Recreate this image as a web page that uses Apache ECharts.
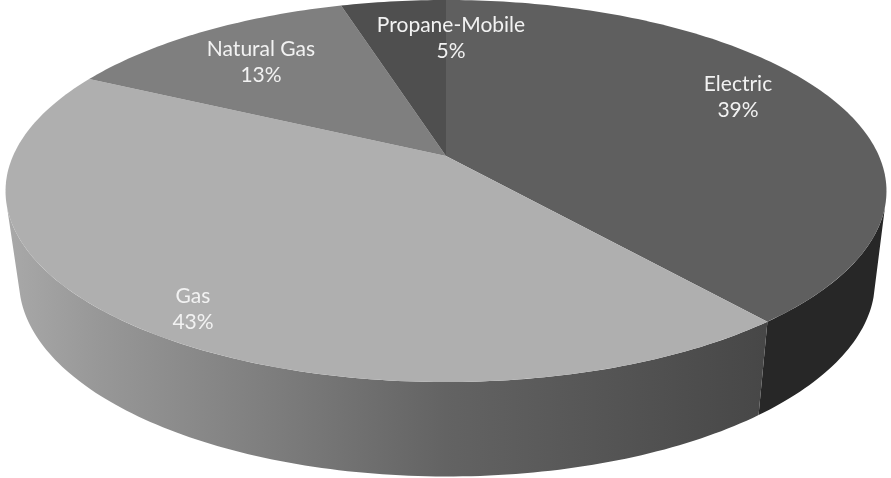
<!DOCTYPE html>
<html>
<head>
<meta charset="utf-8">
<style>html,body{margin:0;padding:0;background:#fff}#chart{width:891px;height:478px}</style>
<script src="https://cdn.jsdelivr.net/npm/echarts@6/dist/echarts.min.js"></script>
</head>
<body>
<div id="chart"></div>
<script>
// Data
var categories = ['Electric', 'Gas', 'Natural Gas', 'Propane-Mobile'];
var shares = [39.0, 43.45, 12.95, 4.6];
var shareLabels = ['39%', '43%', '13%', '5%'];

// Styling and layout
var topColors = ['#5f5f5f', '#afafaf', '#7f7f7f', '#4f4f4f'];
var wallStyles = ['#272727', 'gradient', null, null];
var labelAnchors = [[738, 97], [193, 309], [261, 62], [451, 38]];
var upperDisk = {x0: 446, y0: 156, a: 184.6, b: 433, k: 0.1834};
var lowerDisk = {x0: 447, y0: 246, a: 189, b: 421, k: 0.18};
var frontFrom = 105, frontTo = 255;

function project(d, deg) {
  var t = deg * Math.PI / 180, X = Math.sin(t), Y = -Math.cos(t), w = 1 - d.k * Y;
  return [d.x0 + d.b * X / w, d.y0 + d.a * Y / w];
}
function arc(d, from, to) {
  var pts = [], n = Math.max(2, Math.ceil(Math.abs(to - from)));
  for (var i = 0; i <= n; i++) pts.push(project(d, from + (to - from) * i / n));
  return pts;
}
var total = shares.reduce(function (a, b) { return a + b; }, 0);

function renderItem(params, api) {
  var i = params.dataIndex, before = 0;
  for (var j = 0; j < i; j++) before += shares[j];
  var from = before / total * 360, to = (before + api.value(0)) / total * 360;
  var children = [];
  var wf = Math.max(from, frontFrom), wt = Math.min(to, frontTo);
  if (wallStyles[i] && wt > wf) {
    var fill = wallStyles[i] === 'gradient'
      ? new echarts.graphic.LinearGradient(5, 0, 765, 0, [
          {offset: 0, color: '#a9a9a9'},
          {offset: 0.12, color: '#989898'},
          {offset: 0.58, color: '#636363'},
          {offset: 1, color: '#474747'}
        ], true)
      : wallStyles[i];
    children.push({
      type: 'polygon', z2: 1,
      shape: {points: arc(upperDisk, wf, wt).concat(arc(lowerDisk, wt, wf))},
      style: {fill: fill}
    });
  }
  children.push({
    type: 'polygon', z2: 2,
    shape: {points: [[upperDisk.x0, upperDisk.y0]].concat(arc(upperDisk, from, to))},
    style: {fill: topColors[i]}
  });
  children.push({
    type: 'text', z2: 3,
    x: labelAnchors[i][0], y: labelAnchors[i][1],
    style: {
      text: categories[i] + '\n' + shareLabels[i],
      fill: '#f2f2f2', font: '21px Lato', lineHeight: 26,
      align: 'center', verticalAlign: 'middle'
    }
  });
  return {type: 'group', children: children};
}

var chart = echarts.init(document.getElementById('chart'), null, {renderer: 'canvas'});
chart.setOption({
  backgroundColor: '#ffffff',
  animation: false,
  series: [{
    type: 'custom',
    coordinateSystem: 'none',
    renderItem: renderItem,
    silent: true,
    data: shares.map(function (v, i) { return {name: categories[i], value: [v]}; })
  }]
});
</script>
</body>
</html>
